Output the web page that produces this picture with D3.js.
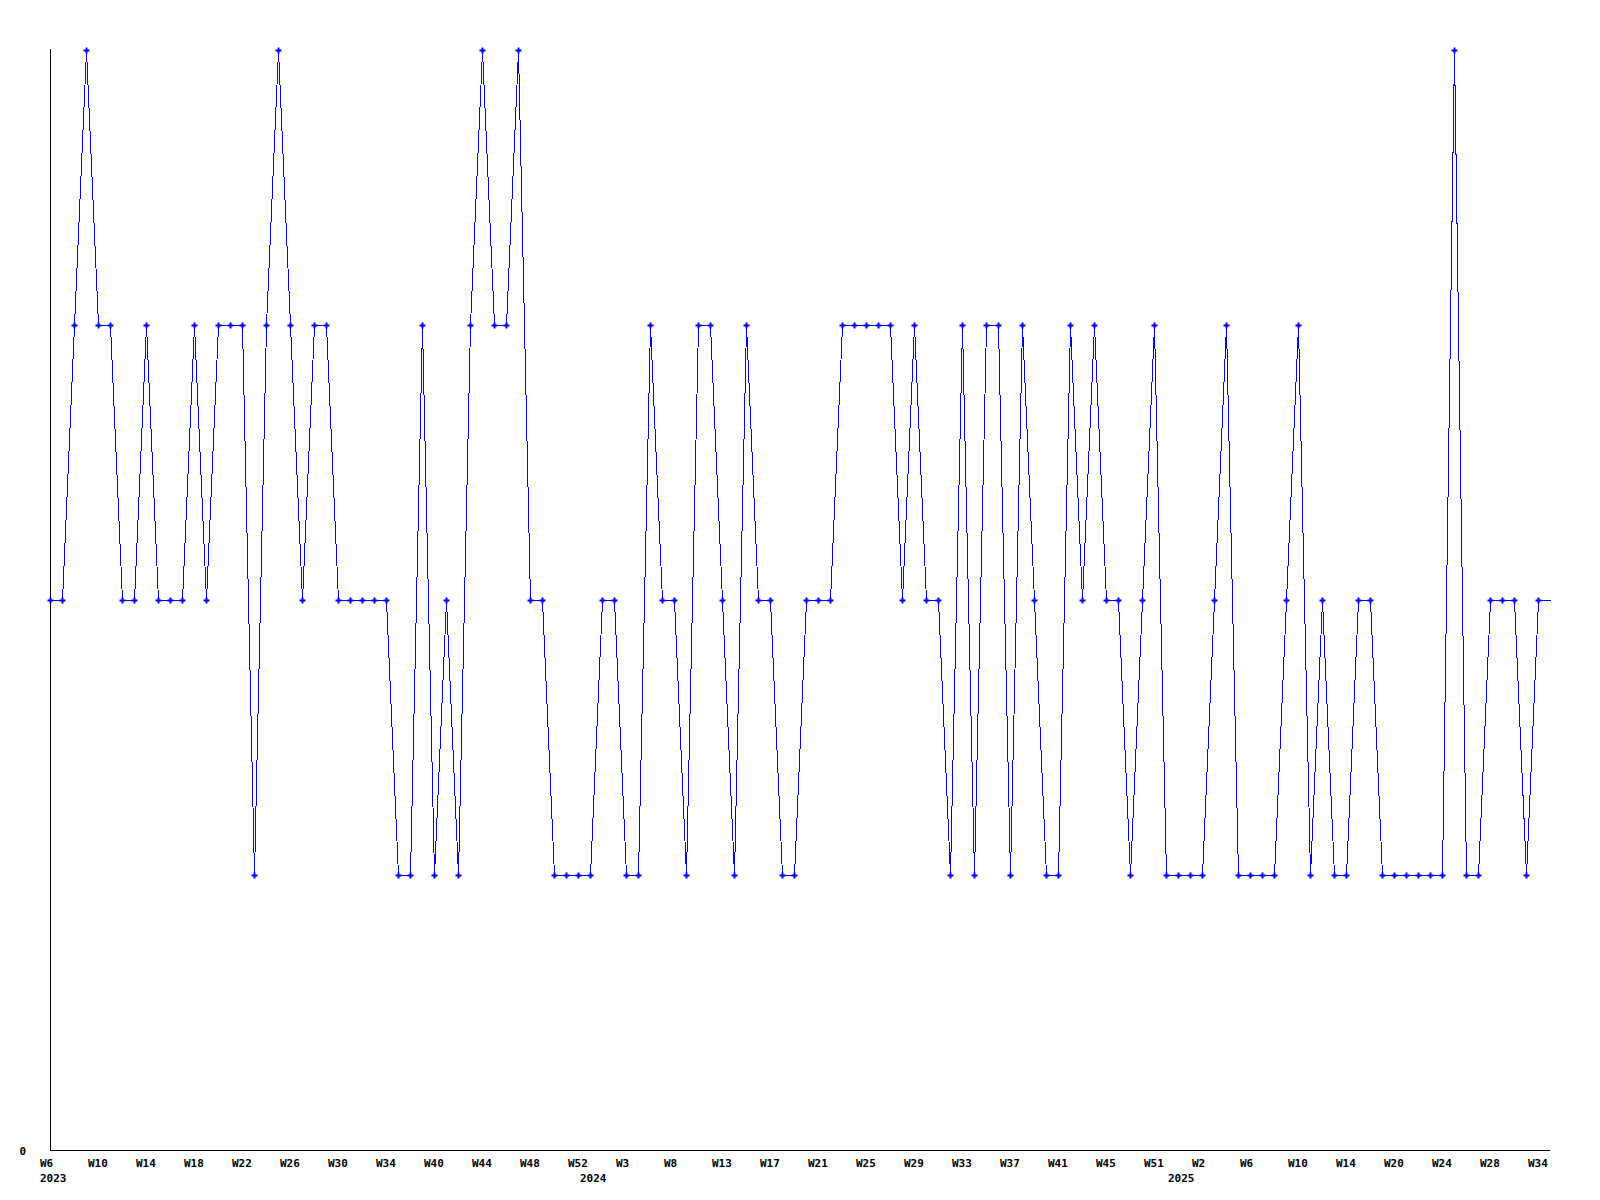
<!DOCTYPE html>
<html>
<head>
<meta charset="utf-8">
<script src="https://cdn.jsdelivr.net/npm/d3@7"></script>
<style>
  html, body { margin: 0; padding: 0; background: #fff; }
  svg { display: block; }
  text { font-family: "DejaVu Sans Mono", "Liberation Mono", monospace; font-weight: bold; font-size: 11px; fill: #000; }
</style>
</head>
<body>
<svg id="chart" width="1600" height="1200"></svg>
<script>
// Weekly values, one per week point (2023 W6 .. 2025 W34)
const values = [
  2,2,3,4,3,3,2,2,3,2,2,2,3,2,3,3,3,1,3,4,
  3,2,3,3,2,2,2,2,2,1,1,3,1,2,1,3,4,3,3,4,
  2,2,1,1,1,1,2,2,1,1,3,2,2,1,3,3,2,1,3,2,
  2,1,1,2,2,2,3,3,3,3,3,2,3,2,2,1,3,1,3,3,
  1,3,2,1,1,3,2,3,2,2,1,2,3,1,1,1,1,2,3,1,
  1,1,1,2,3,1,2,1,1,2,2,1,1,1,1,1,1,4,1,1,
  2,2,2,1,2
];
// Tick labels, one every 4th point
const tickLabels = ["W6","W10","W14","W18","W22","W26","W30","W34","W40","W44","W48","W52",
  "W3","W8","W13","W17","W21","W25","W29","W33","W37","W41","W45","W51",
  "W2","W6","W10","W14","W20","W24","W28","W34"];
const tickStep = 4;
// Year labels and the point index where each year starts
const yearLabels = ["2023","2024","2025"];
const yearStarts = [0, 45, 94];
const yMax = 4;
const yTicks = [0];

const svg = d3.select("#chart");
const mLeft = 50, mRight = 1550, mTop = 50, mBottom = 1150;

const x = d3.scaleLinear().domain([0, values.length]).range([mLeft, mRight]);
const y = d3.scaleLinear().domain([0, yMax]).range([mBottom, mTop]);

// axes lines
svg.append("line").attr("x1", mLeft + 0.5).attr("x2", mLeft + 0.5)
  .attr("y1", mTop - 1).attr("y2", mBottom + 0.5)
  .attr("stroke", "#000").attr("stroke-width", 1);
svg.append("line").attr("x1", mLeft).attr("x2", mRight)
  .attr("y1", mBottom + 0.5).attr("y2", mBottom + 0.5)
  .attr("stroke", "#000").attr("stroke-width", 1);

// y tick label
svg.selectAll("text.ylab").data(yTicks).enter().append("text")
  .attr("class", "ylab")
  .attr("x", 26).attr("y", d => y(d) + 4.5)
  .attr("text-anchor", "end")
  .text(d => d);

// x tick labels
svg.selectAll("text.xlab").data(tickLabels).enter().append("text")
  .attr("class", "xlab")
  .attr("x", (d, i) => x(i * tickStep) - 10)
  .attr("y", mBottom + 16.5)
  .text(d => d);

// year labels
svg.selectAll("text.yr").data(yearLabels).enter().append("text")
  .attr("class", "yr")
  .attr("x", (d, i) => x(yearStarts[i]) - 10)
  .attr("y", mBottom + 31.5)
  .text(d => d);

// line (continues flat to the right edge of the plot)
const linePts = values.map((v, i) => [i, v]);
linePts.push([values.length, values[values.length - 1]]);
const line = d3.line().x(d => x(d[0]) + 0.5).y(d => y(d[1]) + 0.5);
svg.append("path").datum(linePts)
  .attr("d", line)
  .attr("fill", "none")
  .attr("stroke", "#0000ff")
  .attr("stroke-width", 1)
  .attr("shape-rendering", "crispEdges");

// markers
const sym = d3.symbol().type(d3.symbolCross).size(20);
svg.selectAll("path.pt").data(values).enter().append("path")
  .attr("class", "pt")
  .attr("transform", (d, i) => `translate(${x(i) + 0.5},${y(d) + 0.5})`)
  .attr("d", sym)
  .attr("fill", "#0000ff");
</script>
</body>
</html>
